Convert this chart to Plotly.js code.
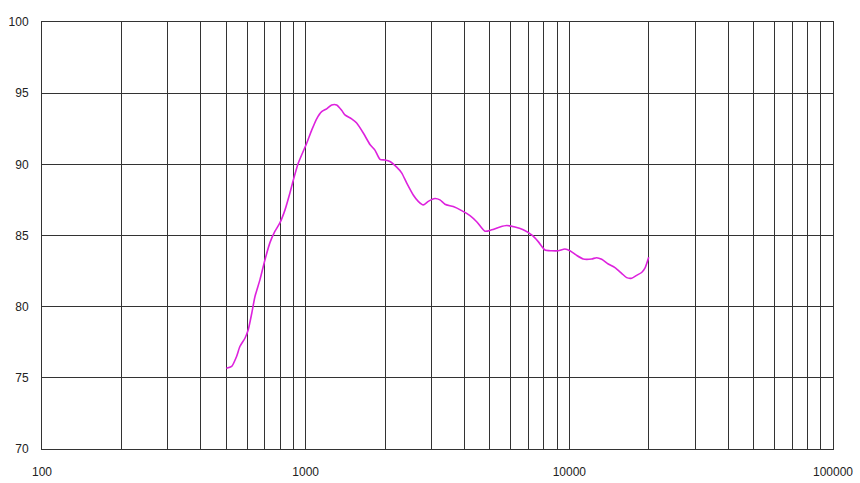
<!DOCTYPE html>
<html><head><meta charset="utf-8">
<script src="https://cdn.plot.ly/plotly-3.0.1.min.js"></script>
<style>html,body{margin:0;padding:0;background:#fff}#c{width:860px;height:483px}</style>
</head><body><div id="c"></div>
<script>
const freq = [500,524,547,563,589,606,624,642,671,701,732,765,799,835,872,898,937,1009,1054,1101,1150,1201,1255,1311,1369,1409,1494,1561,1654,1753,1831,1913,1998,2087,2214,2312,2415,2559,2673,2793,2917,3093,3231,3375,3628,3905,4200,4452,4786,5074,5456,5784,6218,6687,7194,7622,8083,8568,9077,9623,10053,10659,11290,12149,12690,13264,14046,14892,15788,16497,17235,17995,18804,19353,20000];
const level = [75.67,75.8,76.5,77.2,77.8,78.4,79.5,80.7,81.9,83.3,84.5,85.3,85.9,86.8,88.0,88.9,90.07,91.48,92.4,93.2,93.7,93.9,94.17,94.17,93.8,93.47,93.2,92.9,92.2,91.4,91.0,90.35,90.3,90.2,89.8,89.4,88.7,87.85,87.4,87.15,87.4,87.6,87.5,87.2,87.03,86.75,86.4,85.97,85.3,85.4,85.6,85.7,85.6,85.4,85.04,84.57,83.98,83.93,83.93,84.05,83.93,83.6,83.35,83.35,83.44,83.33,83.0,82.74,82.34,82.04,82.0,82.2,82.4,82.7,83.47];
const xTickVals = [100,200,300,400,500,600,700,800,900,1000,2000,3000,4000,5000,6000,7000,8000,9000,10000,20000,30000,40000,50000,60000,70000,80000,90000,100000];
const xTickText = xTickVals.map(v => [100,1000,10000,100000].includes(v) ? String(v) : '');
const yTickVals = [70,75,80,85,90,95,100];

Plotly.newPlot('c', [{
  x: freq, y: level, type: 'scatter', mode: 'lines',
  line: {color: '#DD22DD', width: 1.6, shape: 'spline', smoothing: 0.6},
  hoverinfo: 'skip'
}], {
  width: 860, height: 483,
  margin: {l: 42, r: 27, t: 22, b: 34},
  paper_bgcolor: '#fff', plot_bgcolor: '#fff',
  showlegend: false,
  font: {family: 'Liberation Sans, Arial, sans-serif', size: 12, color: '#222'},
  xaxis: {
    type: 'log', range: [2, 5], tickmode: 'array', tickvals: xTickVals, ticktext: xTickText,
    showgrid: true, gridcolor: '#333', gridwidth: 1, zeroline: false,
    showline: true, linecolor: '#333', linewidth: 1, mirror: true,
    ticks: '', ticklabelstandoff: 12, fixedrange: true
  },
  yaxis: {
    range: [70, 100], tickmode: 'array', tickvals: yTickVals,
    showgrid: true, gridcolor: '#333', gridwidth: 1, zeroline: false,
    showline: true, linecolor: '#333', linewidth: 1, mirror: true,
    ticks: '', ticklabelstandoff: 10, fixedrange: true
  }
}, {displayModeBar: false, staticPlot: true});
</script></body></html>
